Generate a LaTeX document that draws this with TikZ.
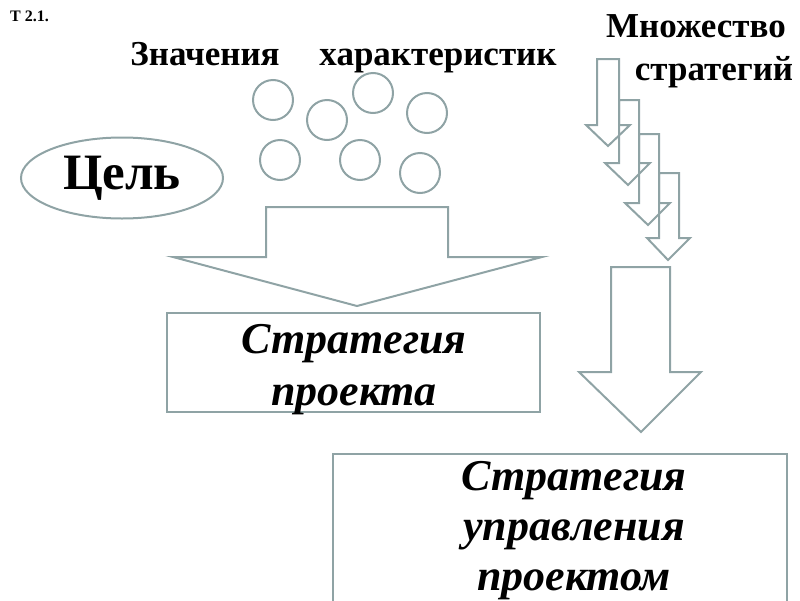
\documentclass[tikz,border=0pt]{standalone}
\usepackage{fontspec}
\setmainfont{Liberation Serif}
\usepackage{tikz}
\usetikzlibrary{positioning, shapes.geometric}
\definecolor{shapegray}{HTML}{8FA3A5}

\tikzset{
  outline/.style={draw=shapegray, line width=2pt},
  bigtext/.style={font=\fontsize{44}{50}\selectfont\bfseries\itshape, align=center},
  headtext/.style={font=\fontsize{35}{40}\selectfont\bfseries}
}

\begin{document}
\begin{tikzpicture}[x=1pt, y=-1pt]
\useasboundingbox (0,0) rectangle (800,600);
\node[font=\fontsize{16}{18}\selectfont\bfseries, anchor=base west, inner sep=0pt] (tnum) at (10,21) {Т 2.1.};
\node[headtext, anchor=base] (valtitle) at (205,65) {Значения};
\node[headtext, anchor=base] (chartitle) at (438,65) {характеристик};
\node[headtext, anchor=base] (settitle) at (696,37) {Множество};
\node[headtext, anchor=base] (settitle2) at (714,80) {стратегий};
% characteristic values
\draw[outline] (273,100) circle (20); \draw[outline] (327,120) circle (20); \draw[outline] (373,93) circle (20);
\draw[outline] (427,113) circle (20); \draw[outline] (280,160) circle (20); \draw[outline] (360,160) circle (20);
\draw[outline] (420,173) circle (20);
\node[outline, ellipse, minimum width=202, minimum height=81, inner sep=0pt,
  font=\fontsize{51}{55}\selectfont\bfseries] (goal) at (122,178) {Цель};
% big arrow
\draw[outline] (266,207) -- (266,257) -- (173,257) -- (357,306) -- (542,257) -- (448,257) -- (448,207) -- cycle;
% small arrows
\draw[outline] (597,59) -- (597,125) -- (586,125) -- (608,146) -- (630,125) -- (619,125) -- (619,59) -- cycle;
\draw[outline] (619,100) -- (619,163) -- (605,163) -- (628,185) -- (650,163) -- (639,163) -- (639,100) -- cycle;
\draw[outline] (639,134) -- (639,203) -- (625,203) -- (648,225) -- (670,203) -- (659,203) -- (659,134) -- cycle;
\draw[outline] (659,173) -- (659,238) -- (647,238) -- (668,260) -- (690,238) -- (679,238) -- (679,173) -- cycle;
% right arrow
\draw[outline] (611,267) -- (611,372) -- (579,372) -- (641,432) -- (701,372) -- (670,372) -- (670,267) -- cycle;
\node[outline, minimum width=373, minimum height=99, inner sep=0pt] (projbox) at (353.5,362.5) {};
\node[bigtext, font=\fontsize{44}{52}\selectfont\bfseries\itshape, anchor=base] (projstrat) at (354,405) {Стратегия\\проекта};
\draw[outline] (333,454) rectangle (787,640);
\node[bigtext, anchor=base] (mgmtstrat) at (574,590) {Стратегия\\управления\\проектом};
\end{tikzpicture}
\end{document}
